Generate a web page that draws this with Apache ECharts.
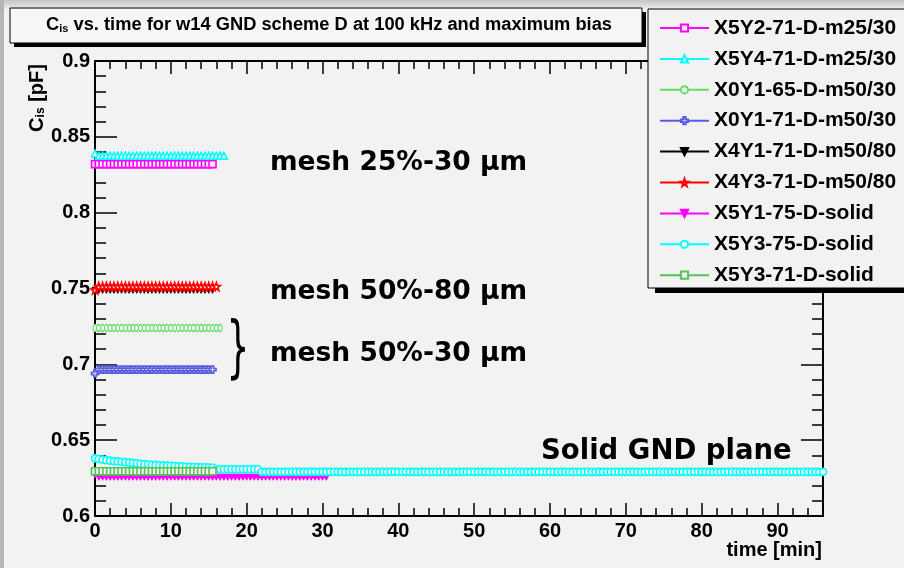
<!DOCTYPE html>
<html><head><meta charset="utf-8">
<script src="https://cdn.jsdelivr.net/npm/echarts@6/dist/echarts.min.js"></script>
<style>html,body{margin:0;padding:0;background:#f2f2f2}#c{width:904px;height:568px}</style>
</head><body><div id="c"></div><script>
// time axis (minutes), one reading every 30 s, shared by all series
const times = [
  0,0.5,1,1.5,2,2.5,3,3.5,4,4.5,5,5.5,6,6.5,7,7.5,8,8.5,9,9.5,
  10,10.5,11,11.5,12,12.5,13,13.5,14,14.5,15,15.5,16,16.5,17,17.5,18,18.5,19,19.5,
  20,20.5,21,21.5,22,22.5,23,23.5,24,24.5,25,25.5,26,26.5,27,27.5,28,28.5,29,29.5,
  30,30.5,31,31.5,32,32.5,33,33.5,34,34.5,35,35.5,36,36.5,37,37.5,38,38.5,39,39.5,
  40,40.5,41,41.5,42,42.5,43,43.5,44,44.5,45,45.5,46,46.5,47,47.5,48,48.5,49,49.5,
  50,50.5,51,51.5,52,52.5,53,53.5,54,54.5,55,55.5,56,56.5,57,57.5,58,58.5,59,59.5,
  60,60.5,61,61.5,62,62.5,63,63.5,64,64.5,65,65.5,66,66.5,67,67.5,68,68.5,69,69.5,
  70,70.5,71,71.5,72,72.5,73,73.5,74,74.5,75,75.5,76,76.5,77,77.5,78,78.5,79,79.5,
  80,80.5,81,81.5,82,82.5,83,83.5,84,84.5,85,85.5,86,86.5,87,87.5,88,88.5,89,89.5,
  90,90.5,91,91.5,92,92.5,93,93.5,94,94.5,95,95.5,96];
const seriesNames = ['X5Y2-71-D-m25/30','X5Y4-71-D-m25/30','X0Y1-65-D-m50/30','X0Y1-71-D-m50/30','X4Y1-71-D-m50/80','X4Y3-71-D-m50/80','X5Y1-75-D-solid','X5Y3-75-D-solid','X5Y3-71-D-solid'];
const vX5Y2_71 = [
  0.832,0.832,0.832,0.832,0.832,0.832,0.832,0.832,0.832,0.832,0.832,0.832,0.832,0.832,0.832,0.832,
  0.832,0.832,0.832,0.832,0.832,0.832,0.832,0.832,0.832,0.832,0.832,0.832,0.832,0.832,0.832,0.832];
const vX5Y4_71 = [0.839,
  0.8375,0.8375,0.8375,0.8375,0.8375,0.8375,0.8375,0.8375,0.8375,0.8375,0.8375,0.8375,0.8375,0.8375,0.8375,0.8375,0.8375,
  0.8375,0.8375,0.8375,0.8375,0.8375,0.8375,0.8375,0.8375,0.8375,0.8375,0.8375,0.8375,0.8375,0.8375,0.8375,0.8375,0.8375];
const vX0Y1_65 = [
  0.724,0.724,0.724,0.724,0.724,0.724,0.724,0.724,0.724,0.724,0.724,0.724,0.724,0.724,0.724,0.724,0.724,
  0.724,0.724,0.724,0.724,0.724,0.724,0.724,0.724,0.724,0.724,0.724,0.724,0.724,0.724,0.724,0.724,0.724];
const vX0Y1_71 = [0.694,
  0.6965,0.6965,0.6965,0.6965,0.6965,0.6965,0.6965,0.6965,0.6965,0.6965,0.6965,0.6965,0.6965,0.6965,0.6965,
  0.6965,0.6965,0.6965,0.6965,0.6965,0.6965,0.6965,0.6965,0.6965,0.6965,0.6965,0.6965,0.6965,0.6965,0.6965,0.6965];
const vX4Y1_71 = [
  0.7488,0.7488,0.7488,0.7488,0.7488,0.7488,0.7488,0.7488,0.7488,0.7488,0.7488,0.7488,0.7488,0.7488,0.7488,0.7488,
  0.7488,0.7488,0.7488,0.7488,0.7488,0.7488,0.7488,0.7488,0.7488,0.7488,0.7488,0.7488,0.7488,0.7488,0.7488,0.7488];
const vX4Y3_71 = [0.749,
  0.7513,0.7513,0.7513,0.7513,0.7513,0.7513,0.7513,0.7513,0.7513,0.7513,0.7513,0.7513,0.7513,0.7513,0.7513,0.7513,
  0.7513,0.7513,0.7513,0.7513,0.7513,0.7513,0.7513,0.7513,0.7513,0.7513,0.7513,0.7513,0.7513,0.7513,0.7513,0.7513];
const vX5Y1_75 = [0.627,
  0.6255,0.6255,0.6255,0.6255,0.6255,0.6255,0.6255,0.6255,0.6255,0.6255,
  0.6255,0.6255,0.6255,0.6255,0.6255,0.6255,0.6255,0.6255,0.6255,0.6255,
  0.6255,0.6255,0.6255,0.6255,0.6255,0.6255,0.6255,0.6255,0.6255,0.6255,
  0.6255,0.6255,0.6255,0.6255,0.6255,0.6255,0.6255,0.6255,0.6255,0.6255,
  0.6255,0.6255,0.6255,0.6255,0.6255,0.6255,0.6255,0.6255,0.6255,0.6255,
  0.6255,0.6255,0.6255,0.6255,0.6255,0.6255,0.6255,0.6255,0.6255,0.6255,0.6255];
const vX5Y3_75 = [
  0.638,0.6376,0.6372,0.6368,0.6365,0.6362,0.636,0.6358,0.6355,0.6352,0.635,0.6348,0.6345,0.6342,0.634,0.6338,
  0.6337,0.6335,0.6334,0.6332,0.6331,0.633,0.6328,0.6327,0.6325,0.6324,0.6323,0.6322,0.6321,0.6321,0.632,0.632,
  0.6308,0.6308,0.6308,0.6308,0.6308,0.6308,0.6308,0.6308,0.6308,0.6308,0.6308,0.6308,
  0.6291,0.6291,0.6291,0.6291,0.6291,0.6291,0.6291,0.6291,0.6291,0.6291,
  0.6291,0.6291,0.6291,0.6291,0.6291,0.6291,0.6291,0.6291,0.6291,0.6291,
  0.6291,0.6291,0.6291,0.6291,0.6291,0.6291,0.6291,0.6291,0.6291,0.6291,
  0.6291,0.6291,0.6291,0.6291,0.6291,0.6291,0.6291,0.6291,0.6291,0.6291,
  0.6291,0.6291,0.6291,0.6291,0.6291,0.6291,0.6291,0.6291,0.6291,0.6291,
  0.6291,0.6291,0.6291,0.6291,0.6291,0.6291,0.6291,0.6291,0.6291,0.6291,
  0.6291,0.6291,0.6291,0.6291,0.6291,0.6291,0.6291,0.6291,0.6291,0.6291,
  0.6291,0.6291,0.6291,0.6291,0.6291,0.6291,0.6291,0.6291,0.6291,0.6291,
  0.6291,0.6291,0.6291,0.6291,0.6291,0.6291,0.6291,0.6291,0.6291,0.6291,
  0.6291,0.6291,0.6291,0.6291,0.6291,0.6291,0.6291,0.6291,0.6291,0.6291,
  0.6291,0.6291,0.6291,0.6291,0.6291,0.6291,0.6291,0.6291,0.6291,0.6291,
  0.6291,0.6291,0.6291,0.6291,0.6291,0.6291,0.6291,0.6291,0.6291,0.6291,
  0.6291,0.6291,0.6291,0.6291,0.6291,0.6291,0.6291,0.6291,0.6291,0.6291,
  0.6291,0.6291,0.6291,0.6291,0.6291,0.6291,0.6291,0.6291,0.6291,0.6291,
  0.6291,0.6291,0.6291,0.6291,0.6291,0.6291,0.6291,0.6291,0.6291];
const vX5Y3_71 = [
  0.6295,0.6295,0.6295,0.6295,0.6295,0.6295,0.6295,0.6295,0.6295,0.6295,0.6295,0.6295,0.6295,0.6295,0.6295,0.6295,
  0.6295,0.6295,0.6295,0.6295,0.6295,0.6295,0.6295,0.6295,0.6295,0.6295,0.6295,0.6295,0.6295,0.6295,0.6295,0.6295];
const xTicks = [0,10,20,30,40,50,60,70,80,90];
const yTicks = ['0.6','0.65','0.7','0.75','0.8','0.85','0.9'];

const allValues = [vX5Y2_71,vX5Y4_71,vX0Y1_65,vX0Y1_71,vX4Y1_71,vX4Y3_71,vX5Y1_75,vX5Y3_75,vX5Y3_71];
const colors = ['#ff00ff','#00ffff','#66dd66','#5a5ae0','#000000','#ff0000','#ff00ff','#00ffff','#55c455'];
const BG = '#f2f2f2';
const crossPath = 'path://M3,0 H6 V3 H9 V6 H6 V9 H3 V6 H0 V3 H3 Z';
const starPath = 'path://M5,0 L6.2,3.6 L10,3.6 L7,5.9 L8.1,9.5 L5,7.3 L1.9,9.5 L3,5.9 L0,3.6 L3.8,3.6 Z';
const symbols = [
  {s:'rect', size:7, fill:BG, bw:1.6},
  {s:'triangle', size:7, fill:BG, bw:1.6},
  {s:'circle', size:[4,7], fill:BG, bw:1.2},
  {s:crossPath, size:7, fill:BG, bw:1.6},
  {s:'triangle', size:6, fill:'#000', rot:180, bw:1},
  {s:starPath, size:8, fill:BG, bw:1.6},
  {s:'triangle', size:6, fill:'#ff00ff', rot:180, bw:1},
  {s:'circle', size:7, fill:BG, bw:1.6},
  {s:'rect', size:7, fill:BG, bw:1.6}
];
const FONT = 'Liberation Sans';
const series = seriesNames.map((name, k) => ({
  name: name, type: 'line', xAxisIndex: 0, yAxisIndex: 0,
  data: allValues[k].map((v, i) => [times[i], v]),
  symbol: symbols[k].s, symbolSize: symbols[k].size, symbolRotate: symbols[k].rot || 0,
  showAllSymbol: true, animation: false,
  lineStyle: {color: colors[k], width: 1},
  itemStyle: {color: symbols[k].fill, borderColor: colors[k], borderWidth: symbols[k].bw}
}));

const tickLbl = {color:'#000', fontFamily:FONT, fontWeight:'bold', fontSize:20};
const option = {
  backgroundColor: BG,
  animation: false,
  grid: {left:95, top:61, width:728, height:455},
  xAxis: [
    {type:'value', position:'bottom', min:0, max:96, interval:10,
     axisLine:{show:true, onZero:false, lineStyle:{color:'#000', width:2}},
     axisTick:{inside:true, length:13, lineStyle:{color:'#000', width:1.5}},
     axisLabel:Object.assign({margin:5, showMaxLabel:false, formatter:v => xTicks.indexOf(v) >= 0 ? String(v) : ''}, tickLbl),
     splitLine:{show:false}},
    {type:'value', position:'bottom', min:0, max:96, interval:2,
     axisLine:{show:false, onZero:false}, axisLabel:{show:false},
     axisTick:{inside:true, length:8, lineStyle:{color:'#000', width:1.5}}, splitLine:{show:false}},
    {type:'value', position:'top', min:0, max:96, interval:10,
     axisLine:{show:true, onZero:false, lineStyle:{color:'#000', width:2}},
     axisTick:{inside:true, length:13, lineStyle:{color:'#000', width:1.5}},
     axisLabel:{show:false}, splitLine:{show:false}},
    {type:'value', position:'top', min:0, max:96, interval:2,
     axisLine:{show:false, onZero:false}, axisLabel:{show:false},
     axisTick:{inside:true, length:8, lineStyle:{color:'#000', width:1.5}}, splitLine:{show:false}}
  ],
  yAxis: [
    {type:'value', position:'left', min:0.6, max:0.9, interval:0.05,
     axisLine:{show:true, onZero:false, lineStyle:{color:'#000', width:2}},
     axisTick:{inside:true, length:22, lineStyle:{color:'#000', width:1.5}},
     minorTick:{show:true, splitNumber:5, length:11, lineStyle:{color:'#000', width:1.5}},
     axisLabel:Object.assign({margin:5, formatter:v => { const s = String(+v.toFixed(2)); return yTicks.indexOf(s) >= 0 ? s : ''; }}, tickLbl),
     splitLine:{show:false}},
    {type:'value', position:'right', min:0.6, max:0.9, interval:0.05,
     axisLine:{show:true, onZero:false, lineStyle:{color:'#000', width:2}},
     axisTick:{inside:true, length:22, lineStyle:{color:'#000', width:1.5}},
     minorTick:{show:true, splitNumber:5, length:11, lineStyle:{color:'#000', width:1.5}},
     axisLabel:{show:false}, splitLine:{show:false}}
  ],
  legend: {
    orient:'vertical', left:659, top:17.5, z:20, padding:0,
    itemWidth:49, itemHeight:9, itemGap:9.9,
    textStyle:{color:'#000', fontFamily:FONT, fontWeight:'bold', fontSize:21, lineHeight:21},
    data: seriesNames
  },
  series: series,
  graphic: [
    {type:'rect', z:-10, shape:{x:0,y:0,width:904,height:9}, style:{fill:new echarts.graphic.LinearGradient(0,0,0,1,[{offset:0,color:'#c4c4c4'},{offset:1,color:'#ededed'}])}},
    {type:'rect', z:-10, shape:{x:0,y:0,width:4,height:568}, style:{fill:'#b5b5b5'}},
    // title box
    {type:'rect', z:15, shape:{x:14,y:12,width:632,height:35}, style:{fill:'#000'}},
    {type:'rect', z:16, shape:{x:10,y:8,width:632,height:35}, style:{fill:'#f6f6f6', stroke:'#000', lineWidth:1}},
    {type:'text', z:17, x:329, y:25, style:{text:'C{s|is} vs. time for w14 GND scheme D at 100 kHz and maximum bias', fill:'#000',
      fontFamily:FONT, fontWeight:'bold', fontSize:18.3, align:'center', verticalAlign:'middle',
      rich:{s:{fontFamily:FONT, fontWeight:'bold', fontSize:11, verticalAlign:'bottom', padding:[7,0,0,0]}}}},
    // legend box
    {type:'rect', z:15, shape:{x:655,y:14,width:260,height:279}, style:{fill:'#000'}},
    {type:'rect', z:16, shape:{x:648,y:9,width:270,height:279}, style:{fill:BG, stroke:'#000', lineWidth:1}},
    // axis titles
    {type:'text', z:17, x:37, y:98, rotation:Math.PI/2, style:{text:'C{s|is} [pF]', fill:'#000',
      fontFamily:FONT, fontWeight:'bold', fontSize:20, align:'center', verticalAlign:'middle',
      rich:{s:{fontFamily:FONT, fontWeight:'bold', fontSize:12, verticalAlign:'bottom', padding:[8,0,0,0]}}}},
    {type:'text', z:17, x:822, y:550, style:{text:'time [min]', fill:'#000', fontFamily:FONT, fontWeight:'bold', fontSize:20, align:'right', verticalAlign:'middle'}},
    // annotations
    {type:'text', z:17, x:270, y:163, style:{text:'mesh 25%-30 µm', fill:'#000', fontFamily:'DejaVu Sans', fontWeight:'bold', fontSize:26.5, align:'left', verticalAlign:'middle'}},
    {type:'text', z:17, x:270, y:292, style:{text:'mesh 50%-80 µm', fill:'#000', fontFamily:'DejaVu Sans', fontWeight:'bold', fontSize:26.5, align:'left', verticalAlign:'middle'}},
    {type:'text', z:17, x:270, y:354, style:{text:'mesh 50%-30 µm', fill:'#000', fontFamily:'DejaVu Sans', fontWeight:'bold', fontSize:26.5, align:'left', verticalAlign:'middle'}},
    {type:'text', z:17, x:238, y:352, scaleY:1.9, style:{text:'}', fill:'#000', fontFamily:'DejaVu Sans', fontSize:36, align:'center', verticalAlign:'middle'}},
    {type:'text', z:17, x:541, y:452, style:{text:'Solid GND plane', fill:'#000', fontFamily:'DejaVu Sans', fontWeight:'bold', fontSize:27.5, align:'left', verticalAlign:'middle'}}
  ]
};
const chart = echarts.init(document.getElementById('c'), null, {renderer:'canvas'});
chart.setOption(option);
</script></body></html>
